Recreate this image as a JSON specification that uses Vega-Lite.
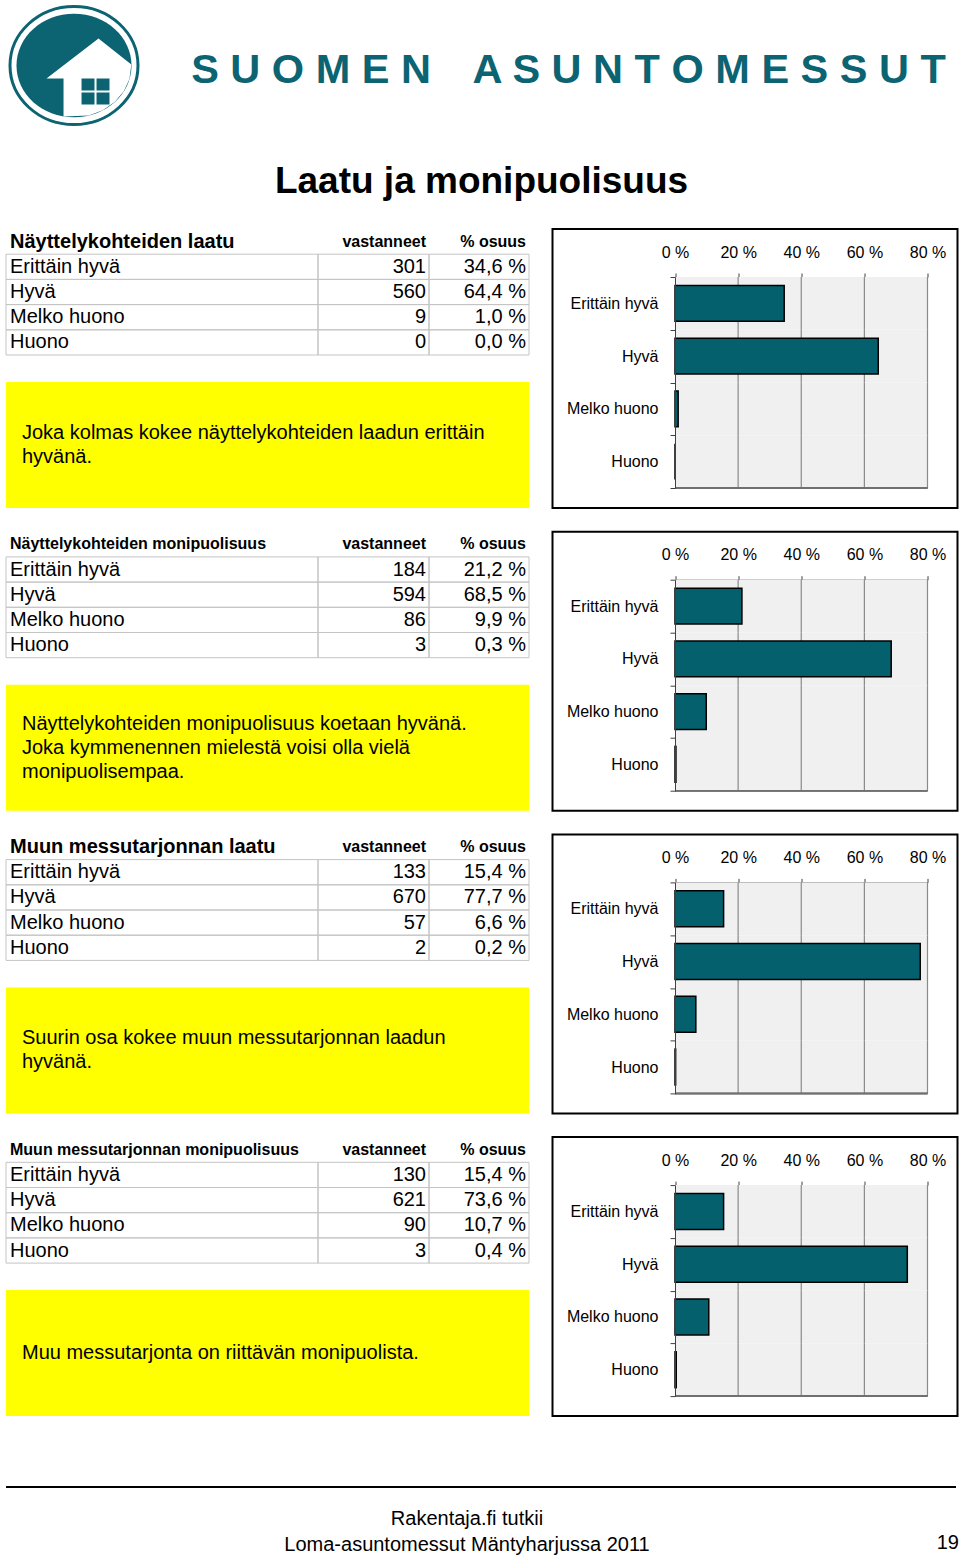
{
  "$schema": "https://vega.github.io/schema/vega-lite/v6.json",
  "background": "white",
  "padding": {"left": 4, "top": 0, "right": 0, "bottom": 0},
  "config": {
    "font": "Liberation Sans",
    "view": {"stroke": null},
    "concat": {"spacing": 0},
    "locale": {"number": {"decimal": ",", "thousands": "\u00a0", "grouping": [3], "currency": ["", "\u00a0€"], "percent": "\u00a0%"}}
  },
  "datasets": {
    "s1": [
      {"cat": "Erittäin hyvä", "n": 301, "pct": 0.346},
      {"cat": "Hyvä", "n": 560, "pct": 0.644},
      {"cat": "Melko huono", "n": 9, "pct": 0.010},
      {"cat": "Huono", "n": 0, "pct": 0.0}
    ],
    "s2": [
      {"cat": "Erittäin hyvä", "n": 184, "pct": 0.212},
      {"cat": "Hyvä", "n": 594, "pct": 0.685},
      {"cat": "Melko huono", "n": 86, "pct": 0.099},
      {"cat": "Huono", "n": 3, "pct": 0.003}
    ],
    "s3": [
      {"cat": "Erittäin hyvä", "n": 133, "pct": 0.154},
      {"cat": "Hyvä", "n": 670, "pct": 0.777},
      {"cat": "Melko huono", "n": 57, "pct": 0.066},
      {"cat": "Huono", "n": 2, "pct": 0.002}
    ],
    "s4": [
      {"cat": "Erittäin hyvä", "n": 130, "pct": 0.154},
      {"cat": "Hyvä", "n": 621, "pct": 0.736},
      {"cat": "Melko huono", "n": 90, "pct": 0.107},
      {"cat": "Huono", "n": 3, "pct": 0.004}
    ]
  },
  "spacing": 0,
  "vconcat": [
    {
      "spacing": 0,
      "hconcat": [
        {
          "width": 136, "height": 130,
          "data": {"values": [{}]},
          "layer": [
            {"mark": {"type": "point", "shape": "M-0.977,0A0.977,0.901,0,1,0,0.977,0A0.977,0.901,0,1,0,-0.977,0Z", "size": 17161, "filled": false, "stroke": "#0c6472", "strokeWidth": 3, "opacity": 1, "yOffset": -1.5}},
            {"mark": {"type": "point", "shape": "M-0.878,0A0.878,0.791,0,1,0,0.878,0A0.878,0.791,0,1,0,-0.878,0Z", "size": 17161, "filled": true, "fill": "#0c6472", "strokeWidth": 0, "opacity": 1, "yOffset": -1.5}},
            {"mark": {"type": "point", "shape": "M0.374,-0.412L0.875,-0.015L0.847,0.205L0.760,0.395L0.621,0.559L0.439,0.685L0.227,0.763L-0.160,0.777L-0.160,0.198L-0.420,0.198Z", "size": 17161, "filled": true, "fill": "#ffffff", "strokeWidth": 0, "opacity": 1, "yOffset": -1.5}},
            {"mark": {"type": "point", "shape": "M0.115,0.198H0.313V0.382H0.115ZM0.344,0.198H0.542V0.382H0.344ZM0.115,0.412H0.313V0.595H0.115ZM0.344,0.412H0.542V0.595H0.344Z", "size": 17161, "filled": true, "fill": "#0c6472", "strokeWidth": 0, "opacity": 1, "yOffset": -1.5}}
          ]
        },
        {
          "width": 815, "height": 130,
          "data": {"values": [{"t": "S U O M E N\u2003A S U N T O M E S S U T"}]},
          "mark": {"type": "text", "fontSize": 41.5, "fontWeight": "bold", "fill": "#0c6472", "dx": 17, "dy": 4},
          "encoding": {"text": {"field": "t"}}
        }
      ]
    },
    {
      "width": 951, "height": 88,
      "data": {"values": [{"t": "Laatu ja monipuolisuus"}]},
      "mark": {"type": "text", "fontSize": 37, "fontWeight": "bold", "fill": "#000000", "dy": 5.5},
      "encoding": {"text": {"field": "t"}}
    },
    {
      "spacing": 13.7,
      "vconcat": [
        {
          "spacing": 21.5,
          "hconcat": [
            {
              "spacing": 26,
              "vconcat": [
                {
                  "bounds": "flush", "spacing": 0,
                  "hconcat": [
                    {
                      "width": 312, "height": 126, "data": {"name": "s1"},
                      "encoding": {"y": {"field": "cat", "type": "nominal", "scale": {"domain": ["hdr", "Erittäin hyvä", "Hyvä", "Melko huono", "Huono"], "paddingInner": 0, "paddingOuter": 0}, "axis": null}},
                      "layer": [
                        {"mark": {"type": "rect", "fill": "transparent", "stroke": "#c4c4c4", "strokeWidth": 1}, "encoding": {"x": {"datum": 0, "type": "quantitative", "scale": {"domain": [0, 1], "nice": false, "zero": false}, "axis": null}, "x2": {"datum": 1}}},
                        {"mark": {"type": "text", "align": "left", "baseline": "middle", "dx": 4, "fontSize": 20}, "encoding": {"x": {"datum": 0, "type": "quantitative"}, "text": {"field": "cat"}}},
                        {"data": {"values": [{"t": "Näyttelykohteiden laatu"}]}, "mark": {"type": "text", "align": "left", "baseline": "middle", "dx": 4, "fontSize": 20, "fontWeight": "bold"}, "encoding": {"x": {"datum": 0, "type": "quantitative"}, "y": {"datum": "hdr", "type": "nominal"}, "text": {"field": "t"}}}
                      ]
                    },
                    {
                      "width": 111, "height": 126, "data": {"name": "s1"},
                      "encoding": {"y": {"field": "cat", "type": "nominal", "scale": {"domain": ["hdr", "Erittäin hyvä", "Hyvä", "Melko huono", "Huono"], "paddingInner": 0, "paddingOuter": 0}, "axis": null}},
                      "layer": [
                        {"mark": {"type": "rect", "fill": "transparent", "stroke": "#c4c4c4", "strokeWidth": 1}, "encoding": {"x": {"datum": 0, "type": "quantitative", "scale": {"domain": [0, 1], "nice": false, "zero": false}, "axis": null}, "x2": {"datum": 1}}},
                        {"mark": {"type": "text", "align": "right", "baseline": "middle", "dx": -3, "fontSize": 20}, "encoding": {"x": {"datum": 1, "type": "quantitative"}, "text": {"field": "n", "type": "quantitative"}}},
                        {"data": {"values": [{"t": "vastanneet"}]}, "mark": {"type": "text", "align": "right", "baseline": "middle", "dx": -3, "fontSize": 16, "fontWeight": "bold"}, "encoding": {"x": {"datum": 1, "type": "quantitative"}, "y": {"datum": "hdr", "type": "nominal"}, "text": {"field": "t"}}}
                      ]
                    },
                    {
                      "width": 100, "height": 126, "data": {"name": "s1"},
                      "encoding": {"y": {"field": "cat", "type": "nominal", "scale": {"domain": ["hdr", "Erittäin hyvä", "Hyvä", "Melko huono", "Huono"], "paddingInner": 0, "paddingOuter": 0}, "axis": null}},
                      "layer": [
                        {"mark": {"type": "rect", "fill": "transparent", "stroke": "#c4c4c4", "strokeWidth": 1}, "encoding": {"x": {"datum": 0, "type": "quantitative", "scale": {"domain": [0, 1], "nice": false, "zero": false}, "axis": null}, "x2": {"datum": 1}}},
                        {"mark": {"type": "text", "align": "right", "baseline": "middle", "dx": -3, "fontSize": 20}, "encoding": {"x": {"datum": 1, "type": "quantitative"}, "text": {"field": "pct", "type": "quantitative", "format": ".1%"}}},
                        {"data": {"values": [{"t": "% osuus"}]}, "mark": {"type": "text", "align": "right", "baseline": "middle", "dx": -3, "fontSize": 16, "fontWeight": "bold"}, "encoding": {"x": {"datum": 1, "type": "quantitative"}, "y": {"datum": "hdr", "type": "nominal"}, "text": {"field": "t"}}}
                      ]
                    }
                  ]
                },
                {
                  "width": 523, "height": 126,
                  "view": {"fill": "#ffff00", "stroke": null},
                  "data": {"values": [{"t": "Joka kolmas kokee näyttelykohteiden laadun erittäin\nhyvänä."}]},
                  "mark": {"type": "text", "align": "left", "baseline": "middle", "dx": 16, "dy": -12, "fontSize": 20, "lineHeight": 24, "lineBreak": "\n"},
                  "encoding": {"x": {"datum": 0, "type": "quantitative", "scale": {"domain": [0, 1]}, "axis": null}, "text": {"field": "t"}}
                }
              ]
            },
            {
              "width": 405, "height": 279, "data": {"name": "s1"},
              "view": {"stroke": "#000000", "strokeWidth": 2, "fill": "#ffffff"},
              "encoding": {"y": {"field": "cat", "type": "nominal", "scale": {"domain": ["Erittäin hyvä", "Hyvä", "Melko huono", "Huono"], "range": [48, 259], "paddingInner": 0, "paddingOuter": 0}, "axis": {"orient": "left", "offset": -122.5, "title": null, "tickBand": "extent", "tickSize": 5, "tickColor": "#404040", "domainColor": "#404040", "labelFontSize": 16, "labelColor": "#000000", "labelPadding": 12, "grid": false}}},
              "layer": [
                {"mark": {"type": "rect", "fill": "#f0f0f0"}, "encoding": {"x": {"datum": 0, "type": "quantitative", "title": null}, "x2": {"datum": 0.8}}},
                {"mark": {"type": "rect", "fill": "transparent", "stroke": "#8a8a8a", "strokeWidth": 1.2}, "encoding": {"x": {"datum": 0.2, "type": "quantitative", "title": null}, "x2": {"datum": 0.2}}},
                {"mark": {"type": "rect", "fill": "transparent", "stroke": "#8a8a8a", "strokeWidth": 1.2}, "encoding": {"x": {"datum": 0.4, "type": "quantitative", "title": null}, "x2": {"datum": 0.4}}},
                {"mark": {"type": "rect", "fill": "transparent", "stroke": "#8a8a8a", "strokeWidth": 1.2}, "encoding": {"x": {"datum": 0.6, "type": "quantitative", "title": null}, "x2": {"datum": 0.6}}},
                {"mark": {"type": "rect", "fill": "transparent", "stroke": "#8a8a8a", "strokeWidth": 1.2}, "encoding": {"x": {"datum": 0.8, "type": "quantitative", "title": null}, "x2": {"datum": 0.8}}},
                {"mark": {"type": "rule", "stroke": "#707070", "strokeWidth": 1.5}, "encoding": {"x": {"datum": 0, "type": "quantitative", "title": null}, "x2": {"datum": 0.8}, "y": {"datum": "Huono", "type": "nominal", "bandPosition": 1, "title": null}}},
                {"mark": {"type": "bar", "height": {"band": 0.68}, "fill": "#05606e", "stroke": "#000000", "strokeWidth": 1.5}, "encoding": {"x": {"field": "pct", "type": "quantitative", "title": null, "scale": {"domain": [0, 0.8], "range": [122.5, 375], "nice": false, "zero": true}, "axis": {"orient": "top", "offset": -48, "title": null, "values": [0, 0.2, 0.4, 0.6, 0.8], "format": ".0%", "grid": false, "tickSize": 4, "tickColor": "#404040", "domainColor": "#404040", "labelFontSize": 16, "labelColor": "#000000", "labelPadding": 13, "labelFlush": false, "labelOverlap": false}}}}
              ]
            }
          ]
        },
        {
          "spacing": 21.5,
          "hconcat": [
            {
              "spacing": 26,
              "vconcat": [
                {
                  "bounds": "flush", "spacing": 0,
                  "hconcat": [
                    {
                      "width": 312, "height": 126, "data": {"name": "s2"},
                      "encoding": {"y": {"field": "cat", "type": "nominal", "scale": {"domain": ["hdr", "Erittäin hyvä", "Hyvä", "Melko huono", "Huono"], "paddingInner": 0, "paddingOuter": 0}, "axis": null}},
                      "layer": [
                        {"mark": {"type": "rect", "fill": "transparent", "stroke": "#c4c4c4", "strokeWidth": 1}, "encoding": {"x": {"datum": 0, "type": "quantitative", "scale": {"domain": [0, 1], "nice": false, "zero": false}, "axis": null}, "x2": {"datum": 1}}},
                        {"mark": {"type": "text", "align": "left", "baseline": "middle", "dx": 4, "fontSize": 20}, "encoding": {"x": {"datum": 0, "type": "quantitative"}, "text": {"field": "cat"}}},
                        {"data": {"values": [{"t": "Näyttelykohteiden monipuolisuus"}]}, "mark": {"type": "text", "align": "left", "baseline": "middle", "dx": 4, "fontSize": 16, "fontWeight": "bold"}, "encoding": {"x": {"datum": 0, "type": "quantitative"}, "y": {"datum": "hdr", "type": "nominal"}, "text": {"field": "t"}}}
                      ]
                    },
                    {
                      "width": 111, "height": 126, "data": {"name": "s2"},
                      "encoding": {"y": {"field": "cat", "type": "nominal", "scale": {"domain": ["hdr", "Erittäin hyvä", "Hyvä", "Melko huono", "Huono"], "paddingInner": 0, "paddingOuter": 0}, "axis": null}},
                      "layer": [
                        {"mark": {"type": "rect", "fill": "transparent", "stroke": "#c4c4c4", "strokeWidth": 1}, "encoding": {"x": {"datum": 0, "type": "quantitative", "scale": {"domain": [0, 1], "nice": false, "zero": false}, "axis": null}, "x2": {"datum": 1}}},
                        {"mark": {"type": "text", "align": "right", "baseline": "middle", "dx": -3, "fontSize": 20}, "encoding": {"x": {"datum": 1, "type": "quantitative"}, "text": {"field": "n", "type": "quantitative"}}},
                        {"data": {"values": [{"t": "vastanneet"}]}, "mark": {"type": "text", "align": "right", "baseline": "middle", "dx": -3, "fontSize": 16, "fontWeight": "bold"}, "encoding": {"x": {"datum": 1, "type": "quantitative"}, "y": {"datum": "hdr", "type": "nominal"}, "text": {"field": "t"}}}
                      ]
                    },
                    {
                      "width": 100, "height": 126, "data": {"name": "s2"},
                      "encoding": {"y": {"field": "cat", "type": "nominal", "scale": {"domain": ["hdr", "Erittäin hyvä", "Hyvä", "Melko huono", "Huono"], "paddingInner": 0, "paddingOuter": 0}, "axis": null}},
                      "layer": [
                        {"mark": {"type": "rect", "fill": "transparent", "stroke": "#c4c4c4", "strokeWidth": 1}, "encoding": {"x": {"datum": 0, "type": "quantitative", "scale": {"domain": [0, 1], "nice": false, "zero": false}, "axis": null}, "x2": {"datum": 1}}},
                        {"mark": {"type": "text", "align": "right", "baseline": "middle", "dx": -3, "fontSize": 20}, "encoding": {"x": {"datum": 1, "type": "quantitative"}, "text": {"field": "pct", "type": "quantitative", "format": ".1%"}}},
                        {"data": {"values": [{"t": "% osuus"}]}, "mark": {"type": "text", "align": "right", "baseline": "middle", "dx": -3, "fontSize": 16, "fontWeight": "bold"}, "encoding": {"x": {"datum": 1, "type": "quantitative"}, "y": {"datum": "hdr", "type": "nominal"}, "text": {"field": "t"}}}
                      ]
                    }
                  ]
                },
                {
                  "width": 523, "height": 126,
                  "view": {"fill": "#ffff00", "stroke": null},
                  "data": {"values": [{"t": "Näyttelykohteiden monipuolisuus koetaan hyvänä.\nJoka kymmenennen mielestä voisi olla vielä\nmonipuolisempaa."}]},
                  "mark": {"type": "text", "align": "left", "baseline": "middle", "dx": 16, "dy": -24, "fontSize": 20, "lineHeight": 24, "lineBreak": "\n"},
                  "encoding": {"x": {"datum": 0, "type": "quantitative", "scale": {"domain": [0, 1]}, "axis": null}, "text": {"field": "t"}}
                }
              ]
            },
            {
              "width": 405, "height": 279, "data": {"name": "s2"},
              "view": {"stroke": "#000000", "strokeWidth": 2, "fill": "#ffffff"},
              "encoding": {"y": {"field": "cat", "type": "nominal", "scale": {"domain": ["Erittäin hyvä", "Hyvä", "Melko huono", "Huono"], "range": [48, 259], "paddingInner": 0, "paddingOuter": 0}, "axis": {"orient": "left", "offset": -122.5, "title": null, "tickBand": "extent", "tickSize": 5, "tickColor": "#404040", "domainColor": "#404040", "labelFontSize": 16, "labelColor": "#000000", "labelPadding": 12, "grid": false}}},
              "layer": [
                {"mark": {"type": "rect", "fill": "#f0f0f0"}, "encoding": {"x": {"datum": 0, "type": "quantitative", "title": null}, "x2": {"datum": 0.8}}},
                {"mark": {"type": "rect", "fill": "transparent", "stroke": "#8a8a8a", "strokeWidth": 1.2}, "encoding": {"x": {"datum": 0.2, "type": "quantitative", "title": null}, "x2": {"datum": 0.2}}},
                {"mark": {"type": "rect", "fill": "transparent", "stroke": "#8a8a8a", "strokeWidth": 1.2}, "encoding": {"x": {"datum": 0.4, "type": "quantitative", "title": null}, "x2": {"datum": 0.4}}},
                {"mark": {"type": "rect", "fill": "transparent", "stroke": "#8a8a8a", "strokeWidth": 1.2}, "encoding": {"x": {"datum": 0.6, "type": "quantitative", "title": null}, "x2": {"datum": 0.6}}},
                {"mark": {"type": "rect", "fill": "transparent", "stroke": "#8a8a8a", "strokeWidth": 1.2}, "encoding": {"x": {"datum": 0.8, "type": "quantitative", "title": null}, "x2": {"datum": 0.8}}},
                {"mark": {"type": "rule", "stroke": "#707070", "strokeWidth": 1.5}, "encoding": {"x": {"datum": 0, "type": "quantitative", "title": null}, "x2": {"datum": 0.8}, "y": {"datum": "Huono", "type": "nominal", "bandPosition": 1, "title": null}}},
                {"mark": {"type": "bar", "height": {"band": 0.68}, "fill": "#05606e", "stroke": "#000000", "strokeWidth": 1.5}, "encoding": {"x": {"field": "pct", "type": "quantitative", "title": null, "scale": {"domain": [0, 0.8], "range": [122.5, 375], "nice": false, "zero": true}, "axis": {"orient": "top", "offset": -48, "title": null, "values": [0, 0.2, 0.4, 0.6, 0.8], "format": ".0%", "grid": false, "tickSize": 4, "tickColor": "#404040", "domainColor": "#404040", "labelFontSize": 16, "labelColor": "#000000", "labelPadding": 13, "labelFlush": false, "labelOverlap": false}}}}
              ]
            }
          ]
        },
        {
          "spacing": 21.5,
          "hconcat": [
            {
              "spacing": 26,
              "vconcat": [
                {
                  "bounds": "flush", "spacing": 0,
                  "hconcat": [
                    {
                      "width": 312, "height": 126, "data": {"name": "s3"},
                      "encoding": {"y": {"field": "cat", "type": "nominal", "scale": {"domain": ["hdr", "Erittäin hyvä", "Hyvä", "Melko huono", "Huono"], "paddingInner": 0, "paddingOuter": 0}, "axis": null}},
                      "layer": [
                        {"mark": {"type": "rect", "fill": "transparent", "stroke": "#c4c4c4", "strokeWidth": 1}, "encoding": {"x": {"datum": 0, "type": "quantitative", "scale": {"domain": [0, 1], "nice": false, "zero": false}, "axis": null}, "x2": {"datum": 1}}},
                        {"mark": {"type": "text", "align": "left", "baseline": "middle", "dx": 4, "fontSize": 20}, "encoding": {"x": {"datum": 0, "type": "quantitative"}, "text": {"field": "cat"}}},
                        {"data": {"values": [{"t": "Muun messutarjonnan laatu"}]}, "mark": {"type": "text", "align": "left", "baseline": "middle", "dx": 4, "fontSize": 20, "fontWeight": "bold"}, "encoding": {"x": {"datum": 0, "type": "quantitative"}, "y": {"datum": "hdr", "type": "nominal"}, "text": {"field": "t"}}}
                      ]
                    },
                    {
                      "width": 111, "height": 126, "data": {"name": "s3"},
                      "encoding": {"y": {"field": "cat", "type": "nominal", "scale": {"domain": ["hdr", "Erittäin hyvä", "Hyvä", "Melko huono", "Huono"], "paddingInner": 0, "paddingOuter": 0}, "axis": null}},
                      "layer": [
                        {"mark": {"type": "rect", "fill": "transparent", "stroke": "#c4c4c4", "strokeWidth": 1}, "encoding": {"x": {"datum": 0, "type": "quantitative", "scale": {"domain": [0, 1], "nice": false, "zero": false}, "axis": null}, "x2": {"datum": 1}}},
                        {"mark": {"type": "text", "align": "right", "baseline": "middle", "dx": -3, "fontSize": 20}, "encoding": {"x": {"datum": 1, "type": "quantitative"}, "text": {"field": "n", "type": "quantitative"}}},
                        {"data": {"values": [{"t": "vastanneet"}]}, "mark": {"type": "text", "align": "right", "baseline": "middle", "dx": -3, "fontSize": 16, "fontWeight": "bold"}, "encoding": {"x": {"datum": 1, "type": "quantitative"}, "y": {"datum": "hdr", "type": "nominal"}, "text": {"field": "t"}}}
                      ]
                    },
                    {
                      "width": 100, "height": 126, "data": {"name": "s3"},
                      "encoding": {"y": {"field": "cat", "type": "nominal", "scale": {"domain": ["hdr", "Erittäin hyvä", "Hyvä", "Melko huono", "Huono"], "paddingInner": 0, "paddingOuter": 0}, "axis": null}},
                      "layer": [
                        {"mark": {"type": "rect", "fill": "transparent", "stroke": "#c4c4c4", "strokeWidth": 1}, "encoding": {"x": {"datum": 0, "type": "quantitative", "scale": {"domain": [0, 1], "nice": false, "zero": false}, "axis": null}, "x2": {"datum": 1}}},
                        {"mark": {"type": "text", "align": "right", "baseline": "middle", "dx": -3, "fontSize": 20}, "encoding": {"x": {"datum": 1, "type": "quantitative"}, "text": {"field": "pct", "type": "quantitative", "format": ".1%"}}},
                        {"data": {"values": [{"t": "% osuus"}]}, "mark": {"type": "text", "align": "right", "baseline": "middle", "dx": -3, "fontSize": 16, "fontWeight": "bold"}, "encoding": {"x": {"datum": 1, "type": "quantitative"}, "y": {"datum": "hdr", "type": "nominal"}, "text": {"field": "t"}}}
                      ]
                    }
                  ]
                },
                {
                  "width": 523, "height": 126,
                  "view": {"fill": "#ffff00", "stroke": null},
                  "data": {"values": [{"t": "Suurin osa kokee muun messutarjonnan laadun\nhyvänä."}]},
                  "mark": {"type": "text", "align": "left", "baseline": "middle", "dx": 16, "dy": -12, "fontSize": 20, "lineHeight": 24, "lineBreak": "\n"},
                  "encoding": {"x": {"datum": 0, "type": "quantitative", "scale": {"domain": [0, 1]}, "axis": null}, "text": {"field": "t"}}
                }
              ]
            },
            {
              "width": 405, "height": 279, "data": {"name": "s3"},
              "view": {"stroke": "#000000", "strokeWidth": 2, "fill": "#ffffff"},
              "encoding": {"y": {"field": "cat", "type": "nominal", "scale": {"domain": ["Erittäin hyvä", "Hyvä", "Melko huono", "Huono"], "range": [48, 259], "paddingInner": 0, "paddingOuter": 0}, "axis": {"orient": "left", "offset": -122.5, "title": null, "tickBand": "extent", "tickSize": 5, "tickColor": "#404040", "domainColor": "#404040", "labelFontSize": 16, "labelColor": "#000000", "labelPadding": 12, "grid": false}}},
              "layer": [
                {"mark": {"type": "rect", "fill": "#f0f0f0"}, "encoding": {"x": {"datum": 0, "type": "quantitative", "title": null}, "x2": {"datum": 0.8}}},
                {"mark": {"type": "rect", "fill": "transparent", "stroke": "#8a8a8a", "strokeWidth": 1.2}, "encoding": {"x": {"datum": 0.2, "type": "quantitative", "title": null}, "x2": {"datum": 0.2}}},
                {"mark": {"type": "rect", "fill": "transparent", "stroke": "#8a8a8a", "strokeWidth": 1.2}, "encoding": {"x": {"datum": 0.4, "type": "quantitative", "title": null}, "x2": {"datum": 0.4}}},
                {"mark": {"type": "rect", "fill": "transparent", "stroke": "#8a8a8a", "strokeWidth": 1.2}, "encoding": {"x": {"datum": 0.6, "type": "quantitative", "title": null}, "x2": {"datum": 0.6}}},
                {"mark": {"type": "rect", "fill": "transparent", "stroke": "#8a8a8a", "strokeWidth": 1.2}, "encoding": {"x": {"datum": 0.8, "type": "quantitative", "title": null}, "x2": {"datum": 0.8}}},
                {"mark": {"type": "rule", "stroke": "#707070", "strokeWidth": 1.5}, "encoding": {"x": {"datum": 0, "type": "quantitative", "title": null}, "x2": {"datum": 0.8}, "y": {"datum": "Huono", "type": "nominal", "bandPosition": 1, "title": null}}},
                {"mark": {"type": "bar", "height": {"band": 0.68}, "fill": "#05606e", "stroke": "#000000", "strokeWidth": 1.5}, "encoding": {"x": {"field": "pct", "type": "quantitative", "title": null, "scale": {"domain": [0, 0.8], "range": [122.5, 375], "nice": false, "zero": true}, "axis": {"orient": "top", "offset": -48, "title": null, "values": [0, 0.2, 0.4, 0.6, 0.8], "format": ".0%", "grid": false, "tickSize": 4, "tickColor": "#404040", "domainColor": "#404040", "labelFontSize": 16, "labelColor": "#000000", "labelPadding": 13, "labelFlush": false, "labelOverlap": false}}}}
              ]
            }
          ]
        },
        {
          "spacing": 21.5,
          "hconcat": [
            {
              "spacing": 26,
              "vconcat": [
                {
                  "bounds": "flush", "spacing": 0,
                  "hconcat": [
                    {
                      "width": 312, "height": 126, "data": {"name": "s4"},
                      "encoding": {"y": {"field": "cat", "type": "nominal", "scale": {"domain": ["hdr", "Erittäin hyvä", "Hyvä", "Melko huono", "Huono"], "paddingInner": 0, "paddingOuter": 0}, "axis": null}},
                      "layer": [
                        {"mark": {"type": "rect", "fill": "transparent", "stroke": "#c4c4c4", "strokeWidth": 1}, "encoding": {"x": {"datum": 0, "type": "quantitative", "scale": {"domain": [0, 1], "nice": false, "zero": false}, "axis": null}, "x2": {"datum": 1}}},
                        {"mark": {"type": "text", "align": "left", "baseline": "middle", "dx": 4, "fontSize": 20}, "encoding": {"x": {"datum": 0, "type": "quantitative"}, "text": {"field": "cat"}}},
                        {"data": {"values": [{"t": "Muun messutarjonnan monipuolisuus"}]}, "mark": {"type": "text", "align": "left", "baseline": "middle", "dx": 4, "fontSize": 16, "fontWeight": "bold"}, "encoding": {"x": {"datum": 0, "type": "quantitative"}, "y": {"datum": "hdr", "type": "nominal"}, "text": {"field": "t"}}}
                      ]
                    },
                    {
                      "width": 111, "height": 126, "data": {"name": "s4"},
                      "encoding": {"y": {"field": "cat", "type": "nominal", "scale": {"domain": ["hdr", "Erittäin hyvä", "Hyvä", "Melko huono", "Huono"], "paddingInner": 0, "paddingOuter": 0}, "axis": null}},
                      "layer": [
                        {"mark": {"type": "rect", "fill": "transparent", "stroke": "#c4c4c4", "strokeWidth": 1}, "encoding": {"x": {"datum": 0, "type": "quantitative", "scale": {"domain": [0, 1], "nice": false, "zero": false}, "axis": null}, "x2": {"datum": 1}}},
                        {"mark": {"type": "text", "align": "right", "baseline": "middle", "dx": -3, "fontSize": 20}, "encoding": {"x": {"datum": 1, "type": "quantitative"}, "text": {"field": "n", "type": "quantitative"}}},
                        {"data": {"values": [{"t": "vastanneet"}]}, "mark": {"type": "text", "align": "right", "baseline": "middle", "dx": -3, "fontSize": 16, "fontWeight": "bold"}, "encoding": {"x": {"datum": 1, "type": "quantitative"}, "y": {"datum": "hdr", "type": "nominal"}, "text": {"field": "t"}}}
                      ]
                    },
                    {
                      "width": 100, "height": 126, "data": {"name": "s4"},
                      "encoding": {"y": {"field": "cat", "type": "nominal", "scale": {"domain": ["hdr", "Erittäin hyvä", "Hyvä", "Melko huono", "Huono"], "paddingInner": 0, "paddingOuter": 0}, "axis": null}},
                      "layer": [
                        {"mark": {"type": "rect", "fill": "transparent", "stroke": "#c4c4c4", "strokeWidth": 1}, "encoding": {"x": {"datum": 0, "type": "quantitative", "scale": {"domain": [0, 1], "nice": false, "zero": false}, "axis": null}, "x2": {"datum": 1}}},
                        {"mark": {"type": "text", "align": "right", "baseline": "middle", "dx": -3, "fontSize": 20}, "encoding": {"x": {"datum": 1, "type": "quantitative"}, "text": {"field": "pct", "type": "quantitative", "format": ".1%"}}},
                        {"data": {"values": [{"t": "% osuus"}]}, "mark": {"type": "text", "align": "right", "baseline": "middle", "dx": -3, "fontSize": 16, "fontWeight": "bold"}, "encoding": {"x": {"datum": 1, "type": "quantitative"}, "y": {"datum": "hdr", "type": "nominal"}, "text": {"field": "t"}}}
                      ]
                    }
                  ]
                },
                {
                  "width": 523, "height": 126,
                  "view": {"fill": "#ffff00", "stroke": null},
                  "data": {"values": [{"t": "Muu messutarjonta on riittävän monipuolista."}]},
                  "mark": {"type": "text", "align": "left", "baseline": "middle", "dx": 16, "fontSize": 20, "lineHeight": 24, "lineBreak": "\n"},
                  "encoding": {"x": {"datum": 0, "type": "quantitative", "scale": {"domain": [0, 1]}, "axis": null}, "text": {"field": "t"}}
                }
              ]
            },
            {
              "width": 405, "height": 279, "data": {"name": "s4"},
              "view": {"stroke": "#000000", "strokeWidth": 2, "fill": "#ffffff"},
              "encoding": {"y": {"field": "cat", "type": "nominal", "scale": {"domain": ["Erittäin hyvä", "Hyvä", "Melko huono", "Huono"], "range": [48, 259], "paddingInner": 0, "paddingOuter": 0}, "axis": {"orient": "left", "offset": -122.5, "title": null, "tickBand": "extent", "tickSize": 5, "tickColor": "#404040", "domainColor": "#404040", "labelFontSize": 16, "labelColor": "#000000", "labelPadding": 12, "grid": false}}},
              "layer": [
                {"mark": {"type": "rect", "fill": "#f0f0f0"}, "encoding": {"x": {"datum": 0, "type": "quantitative", "title": null}, "x2": {"datum": 0.8}}},
                {"mark": {"type": "rect", "fill": "transparent", "stroke": "#8a8a8a", "strokeWidth": 1.2}, "encoding": {"x": {"datum": 0.2, "type": "quantitative", "title": null}, "x2": {"datum": 0.2}}},
                {"mark": {"type": "rect", "fill": "transparent", "stroke": "#8a8a8a", "strokeWidth": 1.2}, "encoding": {"x": {"datum": 0.4, "type": "quantitative", "title": null}, "x2": {"datum": 0.4}}},
                {"mark": {"type": "rect", "fill": "transparent", "stroke": "#8a8a8a", "strokeWidth": 1.2}, "encoding": {"x": {"datum": 0.6, "type": "quantitative", "title": null}, "x2": {"datum": 0.6}}},
                {"mark": {"type": "rect", "fill": "transparent", "stroke": "#8a8a8a", "strokeWidth": 1.2}, "encoding": {"x": {"datum": 0.8, "type": "quantitative", "title": null}, "x2": {"datum": 0.8}}},
                {"mark": {"type": "rule", "stroke": "#707070", "strokeWidth": 1.5}, "encoding": {"x": {"datum": 0, "type": "quantitative", "title": null}, "x2": {"datum": 0.8}, "y": {"datum": "Huono", "type": "nominal", "bandPosition": 1, "title": null}}},
                {"mark": {"type": "bar", "height": {"band": 0.68}, "fill": "#05606e", "stroke": "#000000", "strokeWidth": 1.5}, "encoding": {"x": {"field": "pct", "type": "quantitative", "title": null, "scale": {"domain": [0, 0.8], "range": [122.5, 375], "nice": false, "zero": true}, "axis": {"orient": "top", "offset": -48, "title": null, "values": [0, 0.2, 0.4, 0.6, 0.8], "format": ".0%", "grid": false, "tickSize": 4, "tickColor": "#404040", "domainColor": "#404040", "labelFontSize": 16, "labelColor": "#000000", "labelPadding": 13, "labelFlush": false, "labelOverlap": false}}}}
              ]
            }
          ]
        }
      ]
    },
    {
      "width": 950, "height": 69,
      "data": {"values": [{}]},
      "mark": {"type": "rule", "stroke": "#000000", "strokeWidth": 2},
      "encoding": {"y": {"datum": 0, "type": "quantitative", "scale": {"domain": [0, 1]}, "axis": null}}
    },
    {
      "width": 950, "height": 69,
      "layer": [
        {
          "data": {"values": [{"t": "Rakentaja.fi tutkii\nLoma-asuntomessut Mäntyharjussa 2011"}]},
          "mark": {"type": "text", "fontSize": 20, "lineHeight": 26, "lineBreak": "\n", "dx": -14, "dy": -4, "baseline": "middle"},
          "encoding": {"text": {"field": "t"}}
        },
        {
          "data": {"values": [{"t": "19"}]},
          "mark": {"type": "text", "fontSize": 20, "align": "right", "baseline": "middle", "dx": 3, "dy": 20},
          "encoding": {"x": {"datum": 1, "type": "quantitative", "scale": {"domain": [0, 1]}, "axis": null}, "text": {"field": "t"}}
        }
      ]
    }
  ]
}
